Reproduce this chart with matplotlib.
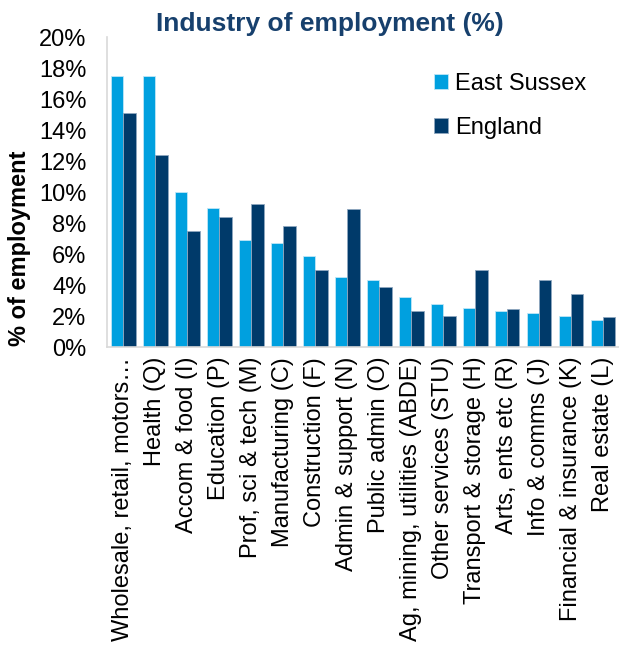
import matplotlib
matplotlib.use("Agg")
import matplotlib.pyplot as plt
import numpy as np
from matplotlib.ticker import FuncFormatter

plt.rcParams['font.family'] = ['Liberation Sans', 'DejaVu Sans']

categories = ["Wholesale, retail, motors…", "Health (Q)", "Accom & food (I)", "Education (P)",
              "Prof, sci & tech (M)", "Manufacturing (C)", "Construction (F)", "Admin & support (N)",
              "Public admin (O)", "Ag, mining, utilities (ABDE)", "Other services (STU)",
              "Transport & storage (H)", "Arts, ents etc (R)", "Info & comms (J)",
              "Financial & insurance (K)", "Real estate (L)"]
east_sussex = [17.5, 17.5, 10.0, 9.0, 6.9, 6.7, 5.9, 4.5, 4.35, 3.25, 2.75, 2.55, 2.35, 2.2, 2.0, 1.75]
england = [15.1, 12.4, 7.5, 8.4, 9.2, 7.8, 5.0, 8.9, 3.85, 2.35, 2.0, 5.0, 2.45, 4.35, 3.45, 1.95]
yticks = [0, 2, 4, 6, 8, 10, 12, 14, 16, 18, 20]

c_es = "#00A0DF"
c_en = "#003A6A"

fig = plt.figure(figsize=(6.19, 6.5), dpi=100)
ax = fig.add_axes([0.173, 0.466, 0.827, 0.477])

x = np.arange(len(categories))
w = 0.39
ax.bar(x - w/2, east_sussex, w, color=c_es, edgecolor="#BFE6F7", linewidth=0.6, label="East Sussex")
ax.bar(x + w/2, england, w, color=c_en, edgecolor="#8FA7BF", linewidth=0.6, label="England")

ax.set_xlim(-0.5, len(categories) - 0.5)
ax.set_ylim(0, 20)
ax.set_yticks(yticks)
ax.yaxis.set_major_formatter(FuncFormatter(lambda v, p: f"{int(v)}%"))
ax.set_xticks(x)
ax.set_xticklabels(categories, rotation=90, fontsize=17)
ax.tick_params(axis='y', labelsize=17, length=0, pad=15)
ax.tick_params(axis='x', length=0, pad=7)

for s in ["top", "right"]:
    ax.spines[s].set_visible(False)
for s in ["left", "bottom"]:
    ax.spines[s].set_color("#D9D9D9")
    ax.spines[s].set_linewidth(1.2)

ax.set_ylabel("% of employment", fontsize=17, fontweight="bold")
ax.yaxis.set_label_coords(-0.148, 0.32)

leg = ax.legend(loc="upper left", bbox_to_anchor=(0.62, 0.915), frameon=False, fontsize=17,
                handlelength=0.6, handleheight=0.6, handletextpad=0.3, labelspacing=0.95,
                borderaxespad=0)

fig.text(0.533, 0.963, "Industry of employment (%)", ha="center", va="center",
         fontsize=19, fontweight="bold", color="#17406D")

fig.savefig("out.png", dpi=100)
